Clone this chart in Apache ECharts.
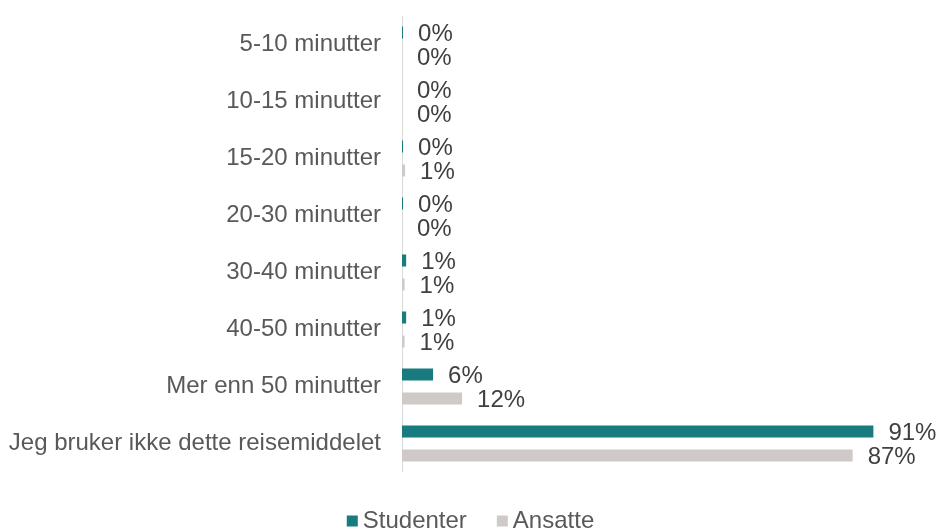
<!DOCTYPE html>
<html>
<head>
<meta charset="utf-8">
<script src="https://cdn.jsdelivr.net/npm/echarts@6/dist/echarts.min.js"></script>
<style>
  html, body { margin: 0; padding: 0; background: #fff; }
  #chart { width: 941px; height: 532px; }
</style>
</head>
<body>
<div id="chart"></div>
<script>
// kategorier, øverst til nederst
const categories = [
  '5-10 minutter',
  '10-15 minutter',
  '15-20 minutter',
  '20-30 minutter',
  '30-40 minutter',
  '40-50 minutter',
  'Mer enn 50 minutter',
  'Jeg bruker ikke dette reisemiddelet',
]
const studenter = [0.2, 0, 0.2, 0.2, 0.8, 0.8, 6, 91]
const ansatte = [0, 0, 0.6, 0, 0.5, 0.5, 11.6, 87]
const seriesNames = ['Studenter', 'Ansatte']

const FONT = 'Arial, "Liberation Sans", sans-serif'

const labelStyle = {
  show: true,
  position: 'right',
  distance: 15,
  offset: [0, 2],
  color: '#404040',
  fontSize: 24,
  fontFamily: FONT,
  formatter: (p) => Math.round(p.value) + '%',
}

const chart = echarts.init(document.getElementById('chart'))
chart.setOption({
  animation: false,
  textStyle: { fontFamily: FONT },
  grid: { left: 402, right: 21, top: 16, bottom: 60 },
  legend: {
    top: 504,
    left: 'center',
    itemWidth: 11,
    itemHeight: 11,
    itemGap: 30,
    icon: 'rect',
    textStyle: { color: '#595959', fontSize: 24, fontFamily: FONT },
    data: seriesNames,
  },
  xAxis: {
    type: 'value',
    min: 0,
    max: 100,
    show: false,
  },
  yAxis: {
    type: 'category',
    inverse: true,
    data: categories,
    axisLine: { show: true, lineStyle: { color: '#d9d9d9', width: 1 } },
    axisTick: { show: false },
    axisLabel: { color: '#595959', fontSize: 24, fontFamily: FONT, margin: 21 },
  },
  series: [
    {
      name: seriesNames[0],
      type: 'bar',
      data: studenter,
      barWidth: 12,
      barGap: '100%',
      itemStyle: { color: '#177b80' },
      label: labelStyle,
    },
    {
      name: seriesNames[1],
      type: 'bar',
      data: ansatte,
      barWidth: 12,
      itemStyle: { color: '#cfcac8' },
      label: labelStyle,
    },
  ],
})
</script>
</body>
</html>
